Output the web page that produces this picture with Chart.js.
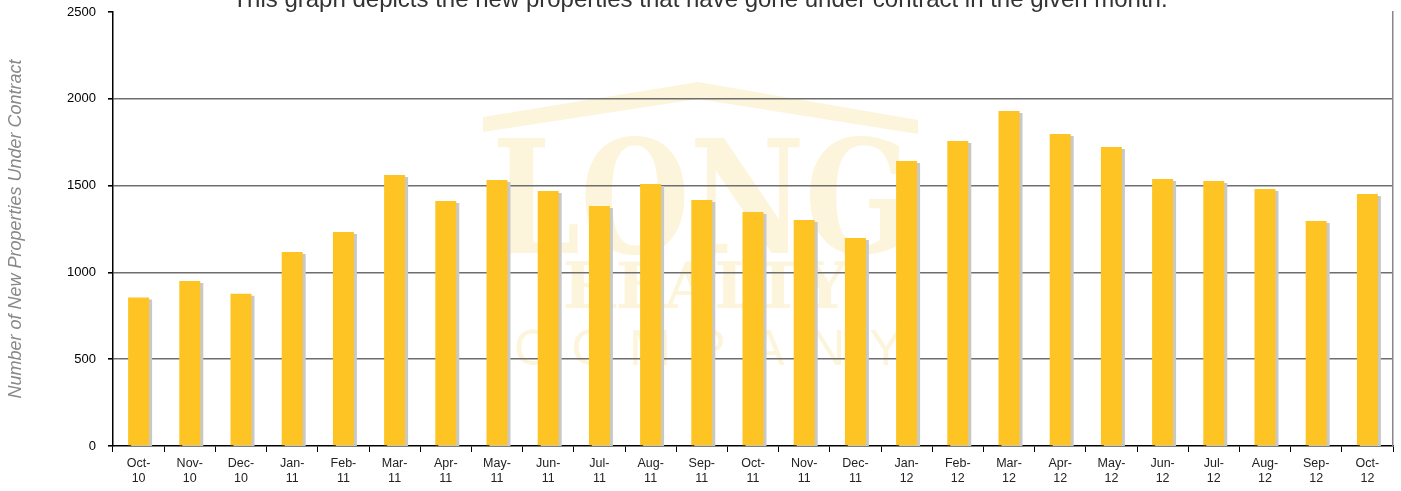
<!DOCTYPE html>
<html>
<head>
<meta charset="utf-8">
<script src="https://cdn.jsdelivr.net/npm/chart.js@4"></script>
<style>
  html, body { margin: 0; padding: 0; background: #fff; }
  #wrap { position: relative; width: 1401px; height: 491px; }
</style>
</head>
<body>
<div id="wrap"><canvas id="chart" width="1401" height="491"></canvas></div>
<script>
// ── Data ──────────────────────────────────────────────────────────────────
const months = [
  ['Oct-', '10'], ['Nov-', '10'], ['Dec-', '10'], ['Jan-', '11'], ['Feb-', '11'],
  ['Mar-', '11'], ['Apr-', '11'], ['May-', '11'], ['Jun-', '11'], ['Jul-', '11'],
  ['Aug-', '11'], ['Sep-', '11'], ['Oct-', '11'], ['Nov-', '11'], ['Dec-', '11'],
  ['Jan-', '12'], ['Feb-', '12'], ['Mar-', '12'], ['Apr-', '12'], ['May-', '12'],
  ['Jun-', '12'], ['Jul-', '12'], ['Aug-', '12'], ['Sep-', '12'], ['Oct-', '12']
];
const underContract = [
  855, 950, 877, 1117, 1233, 1561, 1411, 1532, 1469, 1382,
  1509, 1417, 1348, 1302, 1198, 1642, 1757, 1930, 1797, 1722,
  1538, 1526, 1480, 1296, 1452
];
const yTicks = [0, 500, 1000, 1500, 2000, 2500];

const titleText = 'This graph depicts the new properties that have gone under contract in the given month.';
const yTitle = 'Number of New Properties Under Contract';

// ── Plugins ───────────────────────────────────────────────────────────────

// faint company logo behind the plot
const watermark = {
  id: 'watermark',
  beforeDraw(chart) {
    const ctx = chart.ctx;
    ctx.save();
    ctx.fillStyle = '#fdf4dc';
    // roof
    ctx.beginPath();
    ctx.moveTo(483, 117);
    ctx.lineTo(698, 82);
    ctx.lineTo(918, 120);
    ctx.lineTo(918, 134);
    ctx.lineTo(698, 99);
    ctx.lineTo(483, 132);
    ctx.closePath();
    ctx.fill();
    ctx.textAlign = 'center';
    ctx.textBaseline = 'alphabetic';
    ctx.font = 'bold 158px "DejaVu Serif"';
    ctx.fillText('LONG', 702, 253, 420);
    ctx.font = 'bold 64px "DejaVu Serif"';
    ctx.fillText('REALTY', 705, 308, 385);
    ctx.font = '50px "Liberation Sans"';
    'COMPANY'.split('').forEach((c, i) => ctx.fillText(c, 532 + i * 59, 365));
    ctx.restore();
  }
};

// title text, partly cut by the top edge like the original
const topTitle = {
  id: 'topTitle',
  afterDraw(chart) {
    const ctx = chart.ctx;
    ctx.save();
    ctx.fillStyle = '#333';
    ctx.font = '24px "Liberation Sans"';
    ctx.textAlign = 'center';
    ctx.textBaseline = 'alphabetic';
    ctx.fillText(titleText, 700, 7);
    ctx.restore();
  }
};

// flat grey drop shadow on the bars
const barShadow = {
  id: 'barShadow',
  beforeDatasetDraw(chart) {
    const ctx = chart.ctx;
    ctx.save();
    ctx.shadowColor = '#c8c8c8';
    ctx.shadowOffsetX = 3;
    ctx.shadowOffsetY = 2;
    ctx.shadowBlur = 0;
  },
  afterDatasetDraw(chart) {
    chart.ctx.restore();
  }
};

// ── Chart ─────────────────────────────────────────────────────────────────
new Chart(document.getElementById('chart'), {
  type: 'bar',
  data: {
    labels: months,
    datasets: [{
      label: 'Under Contract',
      data: underContract,
      backgroundColor: '#fdc424',
      borderWidth: 0,
      barPercentage: 0.41,
      categoryPercentage: 1.0,
    }]
  },
  options: {
    responsive: false,
    animation: false,
    layout: { padding: { top: 12, right: 0, left: 0, bottom: 0 } },
    plugins: {
      legend: { display: false },
      tooltip: { enabled: false },
    },
    scales: {
      x: {
        grid: {
          offset: true,
          drawOnChartArea: false,
          drawTicks: true,
          tickLength: 6,
          color: '#000',
        },
        border: { color: '#000', width: 1.5 },
        ticks: {
          color: '#222',
          font: { family: 'Liberation Sans', size: 12.5 },
          padding: 4,
          maxRotation: 0,
          autoSkip: false,
        },
        afterFit: s => { s.height = 45; s.paddingLeft = 0; s.paddingRight = 0; }
      },
      y: {
        min: 0, max: 2500,
        afterBuildTicks: s => { s.ticks = yTicks.map(v => ({ value: v })); },
        grid: {
          color: c => (c.tick && c.tick.value > 0 && c.tick.value < 2500) ? '#6e6e6e' : 'rgba(0,0,0,0)',
          lineWidth: 1.6,
          tickColor: '#000',
          tickLength: 5,
        },
        border: { color: '#000', width: 1.5 },
        ticks: {
          color: '#000',
          font: { family: 'Liberation Sans', size: 13 },
          padding: 12,
          callback: v => String(v),
        },
        title: {
          display: true,
          text: yTitle,
          color: '#888',
          font: { family: 'Liberation Sans', size: 18, style: 'italic' },
          padding: { top: 5, bottom: 0 },
        },
        afterFit: s => { s.width = 113; s.paddingTop = 0; s.paddingBottom = 0; }
      },
      y2: {
        position: 'right',
        min: 0, max: 2500,
        grid: { display: false },
        border: { color: '#888', width: 1.5 },
        ticks: { display: false },
        afterFit: s => { s.width = 8; s.paddingTop = 0; s.paddingBottom = 0; }
      }
    }
  },
  plugins: [watermark, barShadow, topTitle]
});
</script>
</body>
</html>
